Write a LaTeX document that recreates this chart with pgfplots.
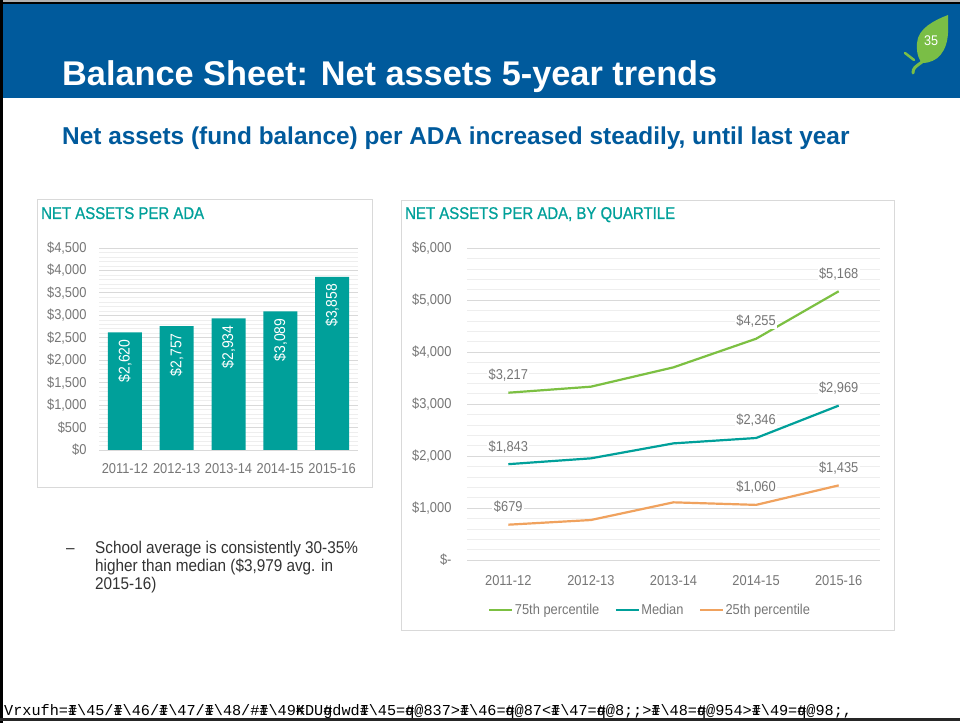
\documentclass[border=0pt]{standalone}
\usepackage{pgfplots}
\pgfplotsset{compat=1.18}
\usepackage{fontspec}
\usepackage{graphicx}
\setmainfont{Liberation Sans}
\newfontfamily\chartfont{Liberation Sans}[FakeStretch=0.9]
\newfontfamily\charttitlefont{Liberation Sans}[FakeStretch=0.88, FakeBold=0.8]
\newfontfamily\monofont{Liberation Mono}
\definecolor{hdrblue}{RGB}{0,90,156}
\definecolor{myteal}{RGB}{0,160,154}
\definecolor{lgreen}{RGB}{124,192,66}
\definecolor{lorange}{RGB}{240,162,94}
\definecolor{txtgray}{RGB}{118,118,118}
\definecolor{gridmaj}{RGB}{217,217,217}
\definecolor{gridmin}{RGB}{238,238,238}
\definecolor{leafgreen}{RGB}{122,190,70}
\begin{document}
\begin{tikzpicture}[x=1pt,y=1pt]
\useasboundingbox (0,0) rectangle (960,723);
\fill[white] (0,0) rectangle (960,723);
% header band
\fill[hdrblue] (0,625) rectangle (960,719);
\fill[black] (0,719) rectangle (960,721);
\fill[gray!60] (0,721) rectangle (960,723);
\fill[black] (0,0) rectangle (3,723);
\fill[black!85] (0,2) rectangle (960,5);
\node[anchor=base west, inner sep=0, text=white, font=\fontsize{34.3}{40}\selectfont\bfseries] at (62,637) {Balance Sheet: Net assets 5-year trends};
% leaf
\fill[leafgreen] (948,708) .. controls (935,703) and (918,695) .. (917,680) .. controls (916,668) and (920,662) .. (922,660) .. controls (938,660) and (947,672) .. (948,690) -- cycle;
\draw[leafgreen, line width=3pt, line cap=round] (922,661) .. controls (915,656) and (913,655) .. (913,650);
\draw[leafgreen, line width=2.5pt, line cap=round] (914,663) -- (905,670);
\node[text=white, inner sep=0, font=\chartfont\fontsize{14}{16}\selectfont] at (931,682) {35};
% subtitle
\node[anchor=base west, inner sep=0, text=hdrblue, font=\fontsize{24.4}{28}\selectfont\bfseries] at (62,578) {Net assets (fund balance) per ADA increased steadily, until last year};
% boxes
\draw[gridmaj] (37,236) rectangle (372,524);
\draw[gridmaj] (401,93) rectangle (894,523);
\node[anchor=base west, inner sep=0, text=myteal, font=\charttitlefont\fontsize{17}{20}\selectfont] at (41,504) {NET ASSETS PER ADA};
\node[anchor=base west, inner sep=0, text=myteal, font=\charttitlefont\fontsize{17}{20}\selectfont] at (405,504) {NET ASSETS PER ADA, BY QUARTILE};
% left chart
\begin{axis}[at={(99pt,273pt)}, anchor=south west, scale only axis,
  width=259pt, height=202pt,
  xmin=-0.5, xmax=4.5, ymin=0, ymax=4500,
  ytick={0,500,...,4500},
  yticklabels={{\$0},{\$500},{\$1,000},{\$1,500},{\$2,000},{\$2,500},{\$3,000},{\$3,500},{\$4,000},{\$4,500}},
  xtick={0,1,2,3,4},
  xticklabels={2011-12,2012-13,2013-14,2014-15,2015-16},
  minor y tick num=4,
  ymajorgrids, yminorgrids,
  major grid style={gridmaj, line width=0.8pt},
  minor grid style={gridmin, line width=0.6pt},
  axis line style={draw=none},
  major tick length=0pt, minor tick length=0pt,
  tick label style={font=\chartfont\fontsize{14.3}{16}\selectfont, text=txtgray},
  xticklabel style={yshift=-10pt},
  yticklabel style={xshift=-9pt},
  ybar, bar width=34pt,
  clip=false]
\addplot[fill=myteal, draw=none, point meta=explicit symbolic,
  nodes near coords,
  every node near coord/.append style={anchor=east, rotate=90, inner xsep=7pt, text=white, font=\chartfont\fontsize{15.5}{17}\selectfont}]
  table[x=x, y=y, meta=lab] {
x y lab
0 2620 \$2,620
1 2757 \$2,757
2 2934 \$2,934
3 3089 \$3,089
4 3858 \$3,858
};
\end{axis}
% right chart
\begin{axis}[at={(467pt,163pt)}, anchor=south west, scale only axis,
  width=413pt, height=312pt,
  xmin=-0.5, xmax=4.5, ymin=0, ymax=6000,
  ytick={0,1000,...,6000},
  yticklabels={{\$-\hspace{7pt}},{\$1,000},{\$2,000},{\$3,000},{\$4,000},{\$5,000},{\$6,000}},
  xtick={0,1,2,3,4},
  xticklabels={2011-12,2012-13,2013-14,2014-15,2015-16},
  minor y tick num=4,
  ymajorgrids, yminorgrids,
  major grid style={gridmaj, line width=0.8pt},
  minor grid style={gridmin, line width=0.6pt},
  axis line style={draw=none},
  major tick length=0pt, minor tick length=0pt,
  tick label style={font=\chartfont\fontsize{14.3}{16}\selectfont, text=txtgray},
  xticklabel style={yshift=-12pt},
  yticklabel style={xshift=-12pt},
  clip=false,
  legend style={at={(0.443,-0.16)}, anchor=center, legend columns=3, draw=none, fill=none,
    font=\chartfont\fontsize{14.3}{16}\selectfont, text=txtgray,
    /tikz/every even column/.append style={column sep=14pt},
    nodes={inner sep=1.5pt}},
  legend image code/.code={\draw[#1, line width=2pt] (0pt,0pt) -- (23pt,0pt);},
  every node near coord/.append style={fill=white, inner sep=1.5pt, text=txtgray, anchor=center, yshift=17.5pt, font=\chartfont\fontsize{14.3}{16}\selectfont}]
\addplot[lgreen, line width=2.2pt, mark=none] table[x=x,y=y] {
x y
0 3217
1 3333
2 3705
3 4255
4 5168
};
\addlegendentry{75th percentile}
\addplot[myteal, line width=2.2pt, mark=none] table[x=x,y=y] {
x y
0 1843
1 1955
2 2243
3 2346
4 2969
};
\addlegendentry{Median}
\addplot[lorange, line width=2.2pt, mark=none] table[x=x,y=y] {
x y
0 679
1 769
2 1109
3 1060
4 1435
};
\addlegendentry{25th percentile}
\addplot[draw=none, mark=none, forget plot, point meta=explicit symbolic, nodes near coords] table[x=x,y=y,meta=lab] {
x y lab
0 3217 \$3,217
3 4255 \$4,255
4 5168 \$5,168
};
\addplot[draw=none, mark=none, forget plot, point meta=explicit symbolic, nodes near coords] table[x=x,y=y,meta=lab] {
x y lab
0 1843 \$1,843
3 2346 \$2,346
4 2969 \$2,969
};
\addplot[draw=none, mark=none, forget plot, point meta=explicit symbolic, nodes near coords] table[x=x,y=y,meta=lab] {
x y lab
0 679 \$679
3 1060 \$1,060
4 1435 \$1,435
};
\end{axis}
% bullet text
\node[anchor=base west, inner sep=0, text=black!80, font=\chartfont\fontsize{17}{17}\selectfont] at (66,170) {–};
\node[anchor=base west, inner sep=0, text=black!80, font=\chartfont\fontsize{17}{17}\selectfont] at (95,170) {School average is consistently 30-35\%};
\node[anchor=base west, inner sep=0, text=black!80, font=\chartfont\fontsize{17}{17}\selectfont] at (95,152) {higher than median (\$3,979 avg. in};
\node[anchor=base west, inner sep=0, text=black!80, font=\chartfont\fontsize{17}{17}\selectfont] at (95,134) {2015-16)};
% footer
\node[anchor=base west, inner sep=0] at (4,7.5) {\resizebox{848pt}{!}{\monofont\fontsize{14}{16}\selectfont Vrxufh=\rlap{\#}I\textbackslash45/\rlap{\#}I\textbackslash46/\rlap{\#}I\textbackslash47/\rlap{\#}I\textbackslash48/\rlap{\#}~\rlap{\#}I\textbackslash49\rlap{\#}KDU\rlap{\#}gdwd\rlap{\#}I\textbackslash45=\rlap{\#}q@837>\rlap{\#}I\textbackslash46=\rlap{\#}q@87<\rlap{\#}I\textbackslash47=\rlap{\#}q@8;;>\rlap{\#}I\textbackslash48=\rlap{\#}q@954>\rlap{\#}I\textbackslash49=\rlap{\#}q@98;,}};
\end{tikzpicture}
\end{document}
